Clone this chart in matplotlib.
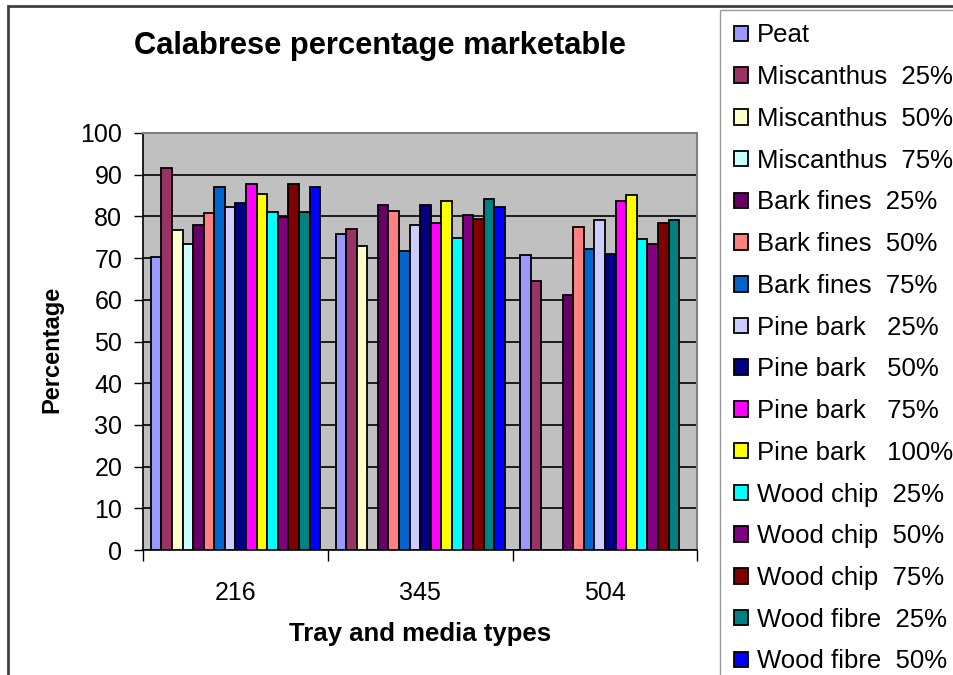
import numpy as np
import matplotlib
matplotlib.use('Agg')
import matplotlib.pyplot as plt
from matplotlib.patches import Rectangle

plt.rcParams['font.family'] = ['Liberation Sans', 'DejaVu Sans']

# tray sizes along the x axis
trays = ['216', '345', '504']

# media types (legend order)
media = ['Peat', 'Miscanthus  25%', 'Miscanthus  50%', 'Miscanthus  75%',
         'Bark fines  25%', 'Bark fines  50%', 'Bark fines  75%',
         'Pine bark   25%', 'Pine bark   50%', 'Pine bark   75%', 'Pine bark   100%',
         'Wood chip  25%', 'Wood chip  50%', 'Wood chip  75%',
         'Wood fibre  25%', 'Wood fibre  50%']

# percentage marketable per media, one value per tray (nan = no data)
peat      = [70.2, 75.9, 70.7]
misc_25   = [91.7, 76.9, 64.5]
misc_50   = [76.8, 73.0, np.nan]
misc_75   = [73.5, np.nan, np.nan]
bark_25   = [77.9, 82.7, 61.2]
bark_50   = [80.7, 81.3, 77.4]
bark_75   = [87.0, 71.6, 72.2]
pine_25   = [82.2, 77.9, 79.2]
pine_50   = [83.2, 82.7, 71.1]
pine_75   = [87.8, 78.3, 83.6]
pine_100  = [85.4, 83.6, 85.1]
chip_25   = [81.1, 74.9, 74.5]
chip_50   = [79.9, 80.3, 73.5]
chip_75   = [87.8, 79.4, 78.4]
fibre_25  = [81.1, 84.1, 79.2]
fibre_50  = [87.0, 82.2, np.nan]

values = [peat, misc_25, misc_50, misc_75, bark_25, bark_50, bark_75,
          pine_25, pine_50, pine_75, pine_100, chip_25, chip_50, chip_75,
          fibre_25, fibre_50]

colors = ['#9999FF', '#993366', '#FFFFCC', '#CCFFFF', '#660066', '#FF8080',
          '#0066CC', '#CCCCFF', '#000080', '#FF00FF', '#FFFF00', '#00FFFF',
          '#800080', '#800000', '#008080', '#0000FF']

fig = plt.figure(figsize=(9.54, 6.75), dpi=100)
ax = fig.add_axes([0.150, 0.185, 0.581, 0.618])
ax.set_facecolor('#C0C0C0')

n = len(media)
gap = 1.45
w = 1.0 / (n + gap)
x = np.arange(len(trays))
handles = []
for i, (vals, c) in enumerate(zip(values, colors)):
    pos = x - 0.5 + w * gap / 2 + w * (i + 0.5)
    h = ax.bar(pos, vals, width=w, color=c, edgecolor='black', linewidth=1.3,
               label=media[i], zorder=3)
    handles.append(h)

ax.set_xlim(-0.5, 2.5)
ax.set_ylim(0, 100)
ax.set_yticks(np.arange(0, 101, 10))
ax.yaxis.grid(True, color='black', linewidth=1.2, zorder=1)
ax.set_axisbelow(True)

# category labels centred, ticks on the boundaries
ax.set_xticks([-0.5, 0.5, 1.5, 2.5])
ax.set_xticklabels([])
ax.set_xticks(x, minor=True)
ax.set_xticklabels(trays, minor=True)
ax.tick_params(axis='x', which='minor', length=0, labelsize=18, pad=22)
ax.tick_params(axis='x', which='major', length=8, width=1, direction='out')
ax.tick_params(axis='y', length=6.5, width=1, direction='out', labelsize=18, pad=8.5)

for side in ['top', 'right']:
    ax.spines[side].set_color('#808080')
    ax.spines[side].set_linewidth(1.5)
for side in ['left', 'bottom']:
    ax.spines[side].set_color('black')
    ax.spines[side].set_linewidth(1.2)

fig.text(0.398, 0.932, 'Calabrese percentage marketable', fontsize=22.2,
         fontweight='bold', ha='center', va='center')
fig.text(0.0545, 0.482, 'Percentage', fontsize=17, fontweight='bold',
         rotation=90, ha='center', va='center')
fig.text(0.440, 0.061, 'Tray and media types', fontsize=18.5,
         fontweight='bold', ha='center', va='center')

leg = fig.legend(handles=handles, loc='upper left', bbox_to_anchor=(0.755, 0.985),
                 fontsize=18.5, frameon=True, fancybox=False, edgecolor='#808080',
                 handlelength=0.55, handleheight=0.55, handletextpad=0.35,
                 labelspacing=0.69, borderpad=0.52, borderaxespad=0.0)
leg.get_frame().set_linewidth(1.0)

# outer chart border
fig.patches.append(Rectangle((8 / 954, -0.1), 1.2, 1 - 6 / 675 + 0.1,
                             transform=fig.transFigure, fill=False,
                             edgecolor='#404040', linewidth=2))

fig.savefig('out.png', dpi=100)
